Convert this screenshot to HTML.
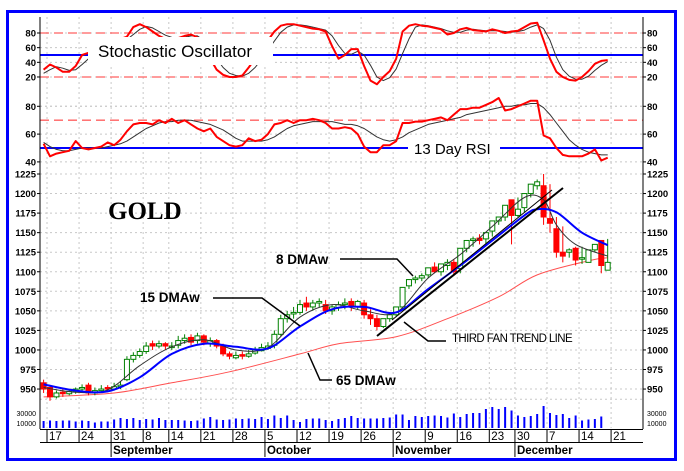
<!DOCTYPE html>
<html><head><meta charset="utf-8"><style>
html,body{margin:0;padding:0;background:#fff;}
svg{display:block;font-family:"Liberation Sans",sans-serif;}
</style></head><body>
<svg id="chart" width="684" height="471" viewBox="0 0 684 471" xmlns="http://www.w3.org/2000/svg">
<rect x="7.5" y="11.5" width="668" height="448" fill="#fff" stroke="#0000ff" stroke-width="3"/>
<g id="grid"></g>
<g id="marks"></g>
<g id="axes"></g>
<g id="annot"></g>
</svg>
<script>
// ---- data (trading days from Aug 14 to Dec 18) ----
const tickDays=[1,6,11,16,20,25,30,35,40,45,50,55,60,65,70,74,79,84,89];
const tickLabels=["17","24","31","8","14","21","28","5","12","19","26","2","9","16","23","30","7","14","21"];
const monthDays=[11,35,55,74];
const monthLabels=["September","October","November","December"];
const closes=[950,940,945,944,947,950,952,945,948,950,950,953,955,988,993,998,1005,1005,1008,1005,1005,1012,1015,1010,1018,1010,1012,1005,995,992,993,992,995,1000,1003,1005,1020,1040,1045,1048,1058,1055,1060,1062,1050,1055,1058,1060,1055,1062,1045,1040,1030,1040,1045,1055,1080,1090,1092,1095,1105,1100,1110,1112,1100,1130,1140,1142,1140,1150,1165,1170,1185,1172,1180,1200,1212,1215,1170,1162,1125,1120,1128,1115,1118,1128,1135,1108,1112];
const opens=[958,952,940,946,944,947,950,955,945,948,952,950,953,962,988,993,998,1008,1005,1008,1003,1006,1012,1016,1012,1018,1008,1012,1005,995,990,994,992,996,999,1002,1006,1020,1040,1046,1048,1060,1055,1060,1058,1050,1054,1058,1062,1055,1060,1045,1040,1030,1040,1045,1055,1082,1090,1092,1096,1106,1100,1108,1112,1104,1130,1140,1143,1142,1152,1165,1170,1192,1172,1182,1200,1210,1210,1168,1155,1125,1125,1130,1118,1112,1128,1140,1102];
const highs=[962,954,948,950,950,952,956,958,952,955,955,958,960,992,997,1002,1010,1012,1012,1010,1010,1018,1020,1020,1022,1020,1016,1014,1008,998,998,998,1000,1004,1008,1010,1025,1045,1050,1055,1064,1068,1064,1066,1064,1058,1062,1066,1066,1064,1064,1052,1045,1036,1046,1050,1060,1085,1095,1098,1100,1112,1108,1116,1116,1108,1136,1145,1148,1146,1155,1170,1175,1190,1195,1185,1205,1218,1225,1212,1170,1158,1130,1132,1132,1122,1134,1140,1142,1115];
const lows=[945,935,938,940,942,944,946,942,942,945,946,948,950,960,984,990,995,1000,1002,1000,1000,1002,1008,1006,1008,1006,1004,1002,992,988,988,988,990,994,998,1000,1002,1018,1035,1040,1045,1050,1050,1055,1046,1045,1050,1052,1050,1052,1040,1032,1025,1028,1036,1042,1052,1078,1085,1088,1092,1098,1095,1102,1095,1098,1125,1132,1135,1136,1145,1160,1165,1135,1170,1176,1195,1205,1160,1150,1118,1112,1118,1108,1110,1112,1125,1098,1102];
const volumes=[14,15,14,15,15,13,15,14,11,13,13,17,20,18,20,16,18,17,20,16,16,16,15,14,15,19,22,17,16,17,19,18,19,18,22,18,25,20,25,16,12,18,19,19,16,14,18,20,24,20,19,19,19,20,21,27,27,16,24,22,24,25,24,21,29,22,28,30,30,38,42,38,42,35,25,22,24,28,44,30,26,28,20,25,15,17,18,23,null];
const ma8Days=[0,5,10,15,20,25,30,35,40,45,50,55,60,65,70,75,78,80,83,88];
const ma8=[952,946,949,980,1004,1013,1000,1003,1042,1058,1050,1048,1092,1122,1158,1195,1192,1160,1135,1120];
const ma15Days=[0,5,10,15,20,25,30,35,40,45,50,55,60,65,70,75,77,80,84,88];
const ma15=[956,948,947,965,995,1008,1004,1002,1030,1052,1055,1048,1078,1108,1140,1172,1180,1176,1150,1134];
const ma65Days=[0,11,20,29,40,46,55,63,71,77,85,88];
const ma65=[940,945,958,972,995,1008,1017,1040,1068,1096,1114,1118];
const stochK=[30,37,33,27,27,35,50,53,57,60,65,70,72,75,88,92,88,82,76,72,72,73,76,78,74,60,45,30,23,20,20,22,33,45,55,70,82,90,92,92,90,88,86,85,82,62,45,50,58,58,35,15,10,20,28,45,82,90,92,90,89,87,85,78,80,85,87,84,83,82,85,83,80,82,83,88,93,94,70,45,27,20,16,15,20,28,38,42,43];
const stochD=[25,30,34,32,29,30,37,45,52,56,60,64,68,71,78,85,89,87,82,77,74,73,74,76,76,70,59,45,33,25,22,21,25,33,44,57,69,81,88,91,91,90,88,86,84,76,63,52,51,55,50,36,20,15,19,31,52,72,88,91,90,88,86,83,81,81,84,85,84,83,83,83,82,81,82,84,88,91,86,70,47,30,21,17,17,21,29,36,41];
const rsi=[53,44,46,47,48,55,50,49,50,51,54,52,56,62,67,68,68,67,70,68,71,68,70,67,64,62,64,58,55,52,51,52,57,55,56,60,67,68,70,68,70,70,71,70,68,64,64,65,64,60,51,47,47,52,52,55,68,68,69,69,70,71,72,70,74,78,78,79,79,81,83,86,77,78,80,82,84,84,59,57,50,45,44,44,44,46,49,41,43];
const rsiSignal=[54,51,49,48,48,49,50,50,50,50,51,52,53,55,58,61,64,66,68,69,69,70,70,70,69,68,67,65,63,60,57,55,55,55,55,56,58,61,64,66,67,68,69,69,69,69,68,67,67,66,64,61,58,56,55,56,58,61,63,65,67,68,69,70,71,72,74,75,76,77,78,79,80,80,81,81,82,82,79,74,68,62,56,52,49,47,46,45,45];
const stochTicks=[20,40,60,80];
const rsiTicks=[40,60,80];
const priceTicks=[950,975,1000,1025,1050,1075,1100,1125,1150,1175,1200,1225];

// ---- scales ----
const NS="http://www.w3.org/2000/svg";
const L=40,R=643;
function x(i){return 43.6+6.41*i;}
function yS(v){return 33+(80-v)*0.733;}
function yR(v){return 148-(v-50)*1.39;}
function yP(v){return 174+(1225-v)*0.782;}
function yV(v){return 428-v*0.5;}
function mk(tag,attrs,parent){const e=document.createElementNS(NS,tag);for(const k in attrs)e.setAttribute(k,attrs[k]);(parent||document.getElementById('marks')).appendChild(e);return e;}
const grid=document.getElementById('grid'),axes=document.getElementById('axes'),marks=document.getElementById('marks'),annot=document.getElementById('annot');

// grid
tickDays.forEach(d=>{const g=mk('line',{x1:x(d)-3,x2:x(d)-3,y1:17,y2:428,stroke:'#c8c8c8','stroke-dasharray':'2,3','stroke-width':1},grid);
});
function hgrid(y){const g=mk('line',{x1:L,x2:R,y1:y,y2:y,stroke:'#c8c8c8','stroke-dasharray':'2,3'},grid);
}
stochTicks.forEach(v=>hgrid(yS(v)));rsiTicks.forEach(v=>hgrid(yR(v)));priceTicks.forEach(v=>hgrid(yP(v)));
hgrid(yR(70)-14);hgrid(yP(937));

// reference lines
function ref(y,color,dash,w,name){const e=mk('line',{x1:L,x2:R,y1:y,y2:y,stroke:color,'stroke-width':w},marks);if(dash)e.setAttribute('stroke-dasharray',dash);
}
ref(yS(80),'#ff6060','9,5',1.3,'stoch-overbought-line');ref(yS(20),'#ff6060','9,5',1.3,'stoch-oversold-line');
ref(yS(50),'#0000ff',null,2,'stoch-midline');
ref(yR(70),'#ff6060','9,5',1.3,'rsi-70-line');ref(yR(50),'#0000ff',null,2,'rsi-50-line');

function path(days,vals,yf,color,w,name){let d='';let pen=false;vals.forEach((v,k)=>{if(v==null){pen=false;return;}d+=(pen?'L':'M')+x(days?days[k]:k).toFixed(1)+','+yf(v).toFixed(1);pen=true;});
const e=mk('path',{d:d,fill:'none',stroke:color,'stroke-width':w,'stroke-linejoin':'round'},marks);}
function smooth(days,vals,yf,color,w,name){const p=days.map((d,k)=>[x(d),yf(vals[k])]);let d='M'+p[0][0]+','+p[0][1];
for(let k=0;k<p.length-1;k++){const p0=p[k-1]||p[k],p1=p[k],p2=p[k+1],p3=p[k+2]||p2;
d+='C'+(p1[0]+(p2[0]-p0[0])/6).toFixed(1)+','+(p1[1]+(p2[1]-p0[1])/6).toFixed(1)+' '+(p2[0]-(p3[0]-p1[0])/6).toFixed(1)+','+(p2[1]-(p3[1]-p1[1])/6).toFixed(1)+' '+p2[0].toFixed(1)+','+p2[1].toFixed(1);}
const e=mk('path',{d:d,fill:'none',stroke:color,'stroke-width':w},marks);}

path(null,stochD,yS,'#333',1,'stoch-d-line');path(null,stochK,yS,'#ff0000',2,'stoch-k-line');
path(null,rsiSignal,yR,'#333',1,'rsi-signal-line');path(null,rsi,yR,'#ff0000',2,'rsi-line');

// moving averages
smooth(ma65Days,ma65,yP,'#ff5050',1,'ma-65-line');

// candles
closes.forEach((c,i)=>{const o=opens[i],up=c>=o,col=up?'#008000':'#ff0000',cx=x(i);
const w=mk('line',{x1:cx,x2:cx,y1:yP(highs[i]),y2:yP(lows[i]),stroke:col,'stroke-width':1},marks);

const top=yP(Math.max(o,c)),h=Math.max(1.5,Math.abs(yP(o)-yP(c)));
const b=mk('rect',{x:cx-2.5,y:top,width:5,height:h,fill:up?'#fff':'#ff0000',stroke:col,'stroke-width':1},marks);
});

smooth(ma8Days,ma8,yP,'#333',1,'ma-8-line');
smooth(ma15Days,ma15,yP,'#0000ff',2,'ma-15-line');

// volume
volumes.forEach((v,i)=>{if(v==null)return;const b=mk('rect',{x:x(i)-1,y:yV(v),width:2,height:428-yV(v),fill:'#0000ff'},marks);
});

// axes
function ax(a){const e=mk('line',a,axes);e.setAttribute('stroke','#000');return e;}
[L,R].forEach((ax0,k)=>{const e=ax({x1:ax0,x2:ax0,y1:17,y2:429});});
function ylab(v,y){[0,1].forEach(k=>{const t=mk('text',{x:k?R+4:L-4,y:y+3.5,'font-size':9.5,'font-weight':'bold','text-anchor':k?'start':'end',fill:'#000'},axes);t.textContent=v;

const tk=mk('line',{x1:k?R:L-3,x2:k?R+3:L,y1:y,y2:y,stroke:'#000'},axes);});}
stochTicks.forEach(v=>ylab(v,yS(v)));rsiTicks.forEach(v=>ylab(v,yR(v)));priceTicks.forEach(v=>ylab(v,yP(v)));
[[30000,yV(30)],["10000",yV(10)]].forEach(([v,y])=>{[0,1].forEach(k=>{const t=mk('text',{x:k?R+4:L-4,y:y+3,'font-size':7,'text-anchor':k?'start':'end'},axes);t.textContent=v;});});
const xa=ax({x1:L,x2:R,y1:429.5,y2:429.5});
const xa2=ax({x1:L,x2:R,y1:442.5,y2:442.5});
tickDays.forEach((d,k)=>{const tx=x(d)-3;const t1=ax({x1:tx,x2:tx,y1:429,y2:442});
const t=mk('text',{x:tx+2,y:440,'font-size':11.5,fill:'#000'},axes);t.textContent=tickLabels[k];});
monthDays.forEach((d,k)=>{const tx=x(d)-3;const t1=ax({x1:tx,x2:tx,y1:442,y2:457});
const t=mk('text',{x:tx+2,y:454,'font-size':11.5,'font-weight':'bold',fill:'#000'},axes);t.textContent=monthLabels[k];});
</script>
<script>
// annotations
(function(){const A=document.getElementById('annot');const NS="http://www.w3.org/2000/svg";
function el(tag,a,name){const e=document.createElementNS(NS,tag);for(const k in a)e.setAttribute(k,a[k]);A.appendChild(e);return e;}
el('rect',{x:88,y:37,width:185,height:28,fill:'#fff'},'stoch-label-bg');
const s=el('text',{x:98,y:57,'font-size':17,fill:'#000'},'stochastic-oscillator-title');s.textContent='Stochastic Oscillator';
el('rect',{x:408,y:138,width:92,height:20,fill:'#fff'},'rsi-label-bg');
const r=el('text',{x:414,y:154,'font-size':15,fill:'#000'},'rsi-title');r.textContent='13 Day RSI';
const g=el('text',{x:108,y:219,'font-size':25,'font-weight':'bold','font-family':'Liberation Serif, serif',fill:'#000'},'gold-title');g.textContent='GOLD';
const m8=el('text',{x:276,y:264,'font-size':13.5,'font-weight':'bold',fill:'#000'},'ma-8-label');m8.textContent='8 DMAw';
el('polyline',{points:'340,259 397,259 413,276',fill:'none',stroke:'#000','stroke-width':1.5},'ma-8-leader');
const m15=el('text',{x:140,y:302,'font-size':13.5,'font-weight':'bold',fill:'#000'},'ma-15-label');m15.textContent='15 DMAw';
el('polyline',{points:'213,298 262,298 300,326',fill:'none',stroke:'#000','stroke-width':1.5},'ma-15-leader');
const m65=el('text',{x:336,y:385,'font-size':13.5,'font-weight':'bold',fill:'#000'},'ma-65-label');m65.textContent='65 DMAw';
el('polyline',{points:'308,353 320,380 332,380',fill:'none',stroke:'#000','stroke-width':1.5},'ma-65-leader');
el('line',{x1:377,y1:336,x2:563,y2:188,stroke:'#000','stroke-width':2},'third-fan-trend-line');
el('line',{x1:392,y1:320,x2:552,y2:190,stroke:'#000','stroke-width':1},'fan-trend-line-2');
const tf=el('text',{x:452,y:342,'font-size':11.5,fill:'#000','letter-spacing':'-0.6'},'trend-line-label');tf.textContent='THIRD FAN TREND LINE';
el('polyline',{points:'404,322 428,341 446,341',fill:'none',stroke:'#000','stroke-width':1.5},'trend-line-leader');
})();
</script>
</body></html>
